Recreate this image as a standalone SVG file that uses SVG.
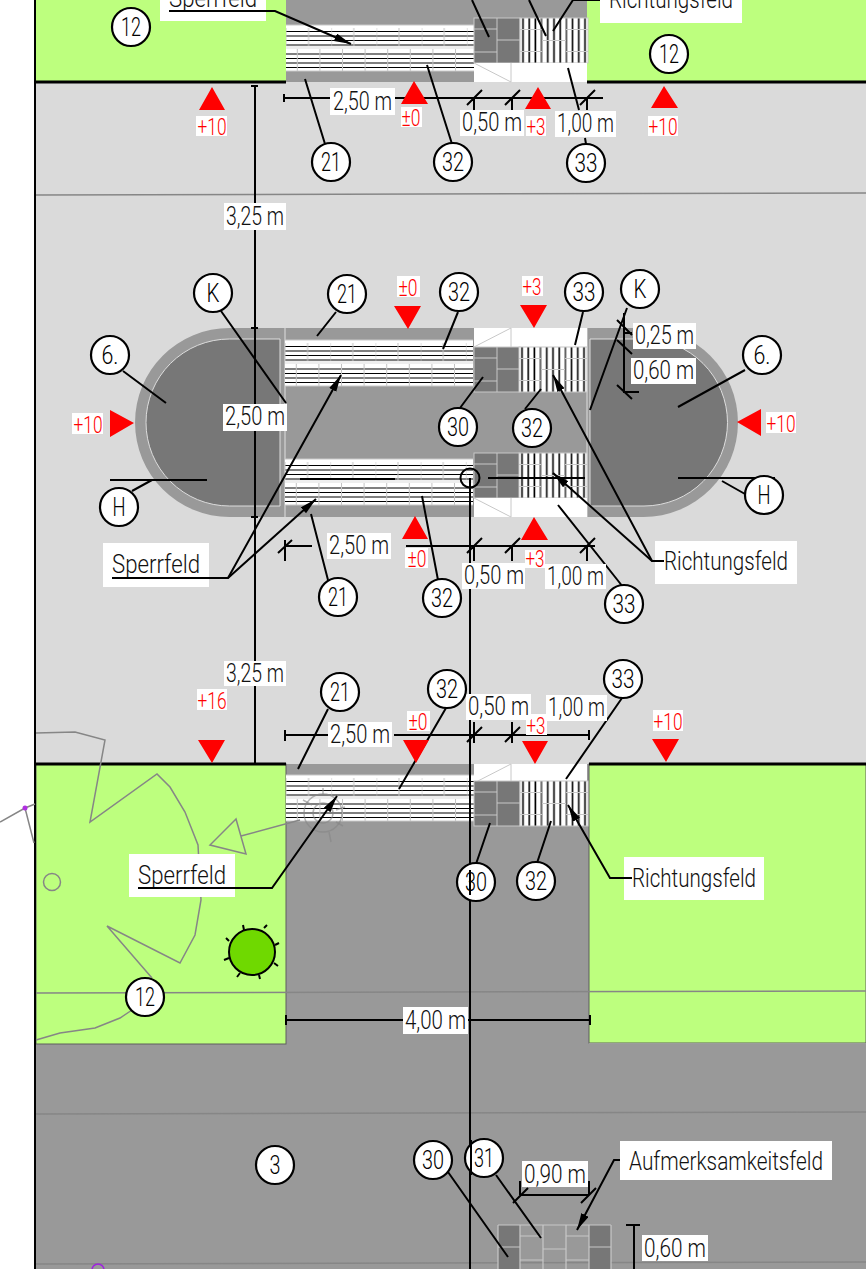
<svg xmlns="http://www.w3.org/2000/svg" xmlns:xlink="http://www.w3.org/1999/xlink" width="866" height="1269" viewBox="0 0 866 1269">
<style>
.t{font-family:Roboto,"Liberation Sans",Arial,sans-serif;font-weight:300;font-size:25px;fill:#111}
.c{font-family:Roboto,"Liberation Sans",Arial,sans-serif;font-weight:300;font-size:25px;fill:#000;text-anchor:middle}
.r{font-family:Roboto,"Liberation Sans",Arial,sans-serif;font-weight:300;font-size:24px;fill:#f00;text-anchor:middle}
.w{fill:#fff}
.n{fill:#fff;stroke:#000;stroke-width:2.2}
.l{fill:none;stroke:#000;stroke-width:2}
.a{fill:none;stroke:#000;stroke-width:2;marker-end:url(#ah)}
.g{fill:none;stroke:#868686;stroke-width:1.5}
.j{fill:none;stroke:#c8c8c8;stroke-width:1}
.tr{fill:#f00}
.road{fill:#999}
.dark{fill:#777}
.grn{fill:#bdff7e}
</style>
<defs>
<marker id="ah" markerUnits="userSpaceOnUse" markerWidth="18" markerHeight="10" refX="17" refY="4" orient="auto"><path d="M0,0 L17,4 L0,8 Z" fill="#000"/></marker>
<pattern id="hs" patternUnits="userSpaceOnUse" width="45.2" height="46">
<rect width="45.2" height="46" fill="#fff"/>
<path d="M0,6.5H45.2M0,11H45.2M0,15.5H45.2M0,20H45.2M0,29H45.2M0,33.5H45.2M0,38H45.2M0,42.5H45.2" stroke="#000" stroke-width="1.2"/>
<path d="M0,3V22M22.6,3V22M11.3,24V46M33.9,24V46" stroke="#c4c4c4" stroke-width="1"/>
<path d="M0,22.5H45.2" stroke="#eee" stroke-width="3"/>
</pattern>
<pattern id="vs" patternUnits="userSpaceOnUse" width="6.2" height="45">
<rect width="6.2" height="45" fill="#fff"/>
<rect x="2.2" width="1.6" height="45" fill="#000"/>
</pattern>
<g id="hf"><rect width="188" height="46" fill="url(#hs)"/><path d="M0,0H188M0,46H188" class="j"/></g>
<g id="vf"><rect width="68" height="45" fill="url(#vs)"/><rect width="68" height="45" class="j"/><path d="M0,11.5H22M46,11.5H68M22,0V45M46,0V45M22,22.5H46M0,33.5H22M46,33.5H68" class="j"/></g>
<g id="tile"><rect width="46" height="45" class="dark"/><rect width="46" height="45" class="j"/><path d="M23,0V45M0,11H23M0,34H23M23,22H46" class="j"/></g>
<g id="wh"><rect width="113" height="19" class="w"/><path d="M0,19L37,0M37,0V19" class="j"/></g>
<g id="wd"><rect width="113" height="19" class="w"/><path d="M0,0L37,19M37,0V19" class="j"/></g>
</defs>
<rect width="866" height="1269" fill="#fff"/>
<g id="ground">
<rect x="35" y="0" width="831" height="1269" fill="#dadada"/>
<rect x="286" y="0" width="301" height="82" class="road"/>
<rect class="grn" x="36" y="0" width="250" height="82"/>
<rect class="grn" x="587" y="0" width="279" height="82"/>
<rect class="road" x="286" y="764" width="303" height="290"/>
<rect class="road" x="35" y="1044" width="831" height="225"/>
<rect class="grn" x="36" y="764" width="250" height="280" stroke="#5f5f5f" stroke-width="1"/>
<rect class="grn" x="589" y="764" width="277" height="279" stroke="#5f5f5f" stroke-width="1"/>
<path d="M35,195L866,193" class="g"/>
<path d="M36,993L866,991" class="g"/>
<path d="M36,1114L866,1112" class="g"/>
<path d="M36,1264L866,1262" class="g"/>
<path d="M35,82H286M587,82H866M35,764H286M589,764H866" stroke="#000" stroke-width="3"/>
<path d="M35,0V1269" stroke="#000" stroke-width="2"/>
</g>
<g id="island">
<path d="M285,328H229.5A94.5,94.5 0 0 0 229.5,517H285Z" class="road"/>
<path d="M280,339H229.5A83.5,83.5 0 0 0 229.5,506H280Z" class="dark" stroke="#ddd"/>
<rect x="285" y="328" width="189" height="189" class="road"/>
<path d="M587,328H643.5A94.5,94.5 0 0 1 643.5,517H587Z" class="road"/>
<path d="M590,339H644A83.5,83.5 0 0 1 644,506H590Z" class="dark" stroke="#ddd"/>
<rect x="474" y="347" width="113" height="151" class="road"/>
<path d="M285,328V517M587,328V517" stroke="#c8c8c8" stroke-width="1.5"/>
</g>
<g id="crossings">
<use xlink:href="#hf" href="#hf" x="286" y="25"/>
<use xlink:href="#tile" href="#tile" x="474" y="18"/>
<use xlink:href="#vf" href="#vf" x="520" y="18"/>
<use xlink:href="#wd" href="#wd" x="474" y="63"/>
<use xlink:href="#hf" href="#hf" x="285" y="340"/>
<use xlink:href="#hf" href="#hf" x="285" y="459"/>
<use xlink:href="#wh" href="#wh" x="474" y="328"/>
<use xlink:href="#tile" href="#tile" x="474" y="347"/>
<use xlink:href="#vf" href="#vf" x="519" y="347"/>
<use xlink:href="#tile" href="#tile" x="474" y="453"/>
<use xlink:href="#vf" href="#vf" x="519" y="453"/>
<use xlink:href="#wd" href="#wd" x="474" y="498"/>
<use xlink:href="#hf" href="#hf" x="286" y="775"/>
<use xlink:href="#wh" href="#wh" x="474" y="764"/>
<use xlink:href="#tile" href="#tile" x="474" y="781"/>
<use xlink:href="#vf" href="#vf" x="520" y="781"/>
<g id="aufmerksamkeit">
<rect x="498" y="1225" width="22" height="44" class="dark"/>
<rect x="589" y="1225" width="22" height="44" class="dark"/>
<path d="M498,1225H611M498,1225V1269M520,1225V1269M543,1225V1269M566,1225V1269M589,1225V1269M611,1225V1269M498,1247H520M589,1247H611M520,1236H543M566,1236H589M543,1249H566M520,1260H543M566,1260H589" stroke="#c8c8c8" stroke-width="1.2" fill="none"/>
</g>
</g>
<g id="plants">
<path d="M36,733L75,732L105,740L90,822L157,774L170,787L185,812L198,845L201,900L195,935L180,963L107,926L152,978" class="g"/>
<path d="M36,1040L60,1033L95,1028L120,1018L132,1010" class="g"/>
<path d="M236,819L210,845L246,854ZM241,836L300,820" class="g"/>
<circle cx="52" cy="882" r="8.5" class="g"/>
<circle cx="323" cy="813" r="19" class="g" stroke-opacity=".6"/>
<circle cx="323" cy="813" r="10" class="g" stroke-opacity=".6"/>
<path d="M303,800L312,805M323,794V788M345,807L336,810M343,826L336,822M331,842L329,832" class="g" stroke-opacity=".6"/>
<path d="M0,822L25,808L35,804M25,808L34,843" class="g"/>
<circle cx="25" cy="808" r="2.5" fill="#b030e0"/>
<circle cx="98" cy="1270" r="6" fill="none" stroke="#a020e0" stroke-width="1.5"/>
<g id="tree">
<path d="M244,930L243,925M264,928L267,925M275,945L279,943M274,963L278,966M259,975L260,979M240,973L237,977M229,958L224,960M229,941L226,938" class="l"/>
<circle cx="252" cy="952" r="23" fill="#6fd900" stroke="#000" stroke-width="2"/>
</g>
</g>
<g id="connectors">
<path d="M169,11H275L351,44" class="a"/>
<path d="M608,0H573L553,31" class="l"/>
<path d="M529,0L546,36M472,0L489,37" class="l"/>
<path d="M305,79L325,144M427,65L452,144M568,68L579,110M585,138L586,144" class="l"/>
<path d="M284,98H331M394,98H603M284,94V102M467,105L482,90M505,105L520,90M580,105L595,90M474,98V110M512,98V110M587,98V110" class="l"/>
<path d="M255,86V764M251,86H258M251,328H258M251,517H258" class="l"/>
<path d="M470,478V1269" class="l"/>
<circle cx="470" cy="478" r="9.5" class="l" stroke-width="1.5"/>
<path d="M110,480H207M300,479H395M488,478H585M678,478H775" class="l"/>
<path d="M152,480L132,491M722,481L745,494M123,371L166,403M745,370L678,407M221,311L286,403M627,308L590,410M336,312L317,336M458,312L443,349M583,312L575,345M460,408L483,377M525,409L541,389" class="l"/>
<path d="M624,313V393M624,392H639M624,333H632M617,320L632,335M617,340L632,354M617,385L632,399" class="l"/>
<path d="M285,546H312M406,546H595M285,540V561M278,553L292,540M467,553L482,538M505,553L520,538M580,553L595,538M474,546V561M512,546V561M587,546V561" class="l"/>
<path d="M311,514L328,580M422,496L438,580M558,505L623,587" class="l"/>
<path d="M662,561H652L553,375" class="a"/>
<path d="M652,561L553,473" class="a"/>
<path d="M112,578H228L341,375" class="a"/>
<path d="M228,578L316,499" class="a"/>
<path d="M328,709L298,769M446,708L399,789M622,698L566,779M490,823L476,864M551,821L537,863" class="l"/>
<path d="M285,735H328M394,735H589M285,730V741M467,742L482,727M505,742L520,727M474,722V743M512,722V743M589,730V740" class="l"/>
<path d="M138,888H272L337,796" class="a"/>
<path d="M630,878H610L568,805" class="a"/>
<path d="M285,1020H403M468,1020H590M286,1015V1025M590,1015V1025" class="l"/>
<path d="M448,1172L508,1257M496,1175L541,1238" class="l"/>
<path d="M520,1195H589M520,1181V1195M589,1181V1195M513,1203L528,1188M581,1203L596,1188" class="l"/>
<path d="M626,1160H614L577,1230" class="a"/>
<path d="M634,1225V1269M626,1225H640" class="l"/>
</g>
<g id="level-marks">
<path class="tr" d="M212,87L225,110H199ZM414,81L428,104H401ZM538,87L551,109H525ZM664,86L678,108H651ZM408,329L394,306H421ZM534,328L520,305H547ZM134,423L110,410V437ZM737,422L761,409V436ZM415,516L428,539H402ZM534,517L548,540H521ZM212,763L198,740H225ZM416,763L403,740H429ZM535,764L522,741H548ZM666,762L652,739H679Z"/>
<g id="lv-labels">
<rect class="w" x="196" y="116" width="31" height="20"/><text class="r" x="212" y="135" textLength="29" lengthAdjust="spacingAndGlyphs">+10</text>
<rect class="w" x="401" y="107" width="21" height="20"/><text class="r" x="411" y="126" textLength="19" lengthAdjust="spacingAndGlyphs">±0</text>
<rect class="w" x="526" y="116" width="20" height="20"/><text class="r" x="536" y="135" textLength="19" lengthAdjust="spacingAndGlyphs">+3</text>
<rect class="w" x="648" y="116" width="30" height="20"/><text class="r" x="663" y="135" textLength="29" lengthAdjust="spacingAndGlyphs">+10</text>
<rect class="w" x="397" y="276" width="23" height="21"/><text class="r" x="408" y="296" textLength="19" lengthAdjust="spacingAndGlyphs">±0</text>
<rect class="w" x="522" y="276" width="21" height="20"/><text class="r" x="532" y="295" textLength="19" lengthAdjust="spacingAndGlyphs">+3</text>
<rect class="w" x="72" y="413" width="31" height="21"/><text class="r" x="88" y="433" textLength="29" lengthAdjust="spacingAndGlyphs">+10</text>
<rect class="w" x="766" y="412" width="30" height="21"/><text class="r" x="781" y="432" textLength="29" lengthAdjust="spacingAndGlyphs">+10</text>
<rect class="w" x="405" y="548" width="23" height="20"/><text class="r" x="417" y="567" textLength="19" lengthAdjust="spacingAndGlyphs">±0</text>
<rect class="w" x="525" y="550" width="20" height="18"/><text class="r" x="535" y="567" textLength="19" lengthAdjust="spacingAndGlyphs">+3</text>
<rect class="w" x="197" y="689" width="30" height="21"/><text class="r" x="212" y="709" textLength="29" lengthAdjust="spacingAndGlyphs">+16</text>
<rect class="w" x="407" y="711" width="23" height="20"/><text class="r" x="418" y="730" textLength="19" lengthAdjust="spacingAndGlyphs">±0</text>
<rect class="w" x="526" y="714" width="21" height="21"/><text class="r" x="536" y="734" textLength="19" lengthAdjust="spacingAndGlyphs">+3</text>
<rect class="w" x="653" y="710" width="30" height="21"/><text class="r" x="668" y="730" textLength="29" lengthAdjust="spacingAndGlyphs">+10</text>
</g>
</g>
<g id="labels">
<rect class="w" x="160" y="0" width="106" height="21"/><text class="t" x="169" y="7" textLength="88" lengthAdjust="spacingAndGlyphs">Sperrfeld</text>
<path d="M169,11H266" class="l"/>
<rect class="w" x="600" y="0" width="142" height="23"/><text class="t" x="609" y="8" textLength="124" lengthAdjust="spacingAndGlyphs">Richtungsfeld</text>
<rect class="w" x="330" y="88" width="65" height="27"/><text class="t" x="333" y="110" textLength="59" lengthAdjust="spacingAndGlyphs">2,50 m</text>
<rect class="w" x="460" y="110" width="64" height="26"/><text class="t" x="462" y="131" textLength="60" lengthAdjust="spacingAndGlyphs">0,50 m</text>
<rect class="w" x="555" y="111" width="61" height="26"/><text class="t" x="557" y="132" textLength="57" lengthAdjust="spacingAndGlyphs">1,00 m</text>
<rect class="w" x="224" y="203" width="62" height="27"/><text class="t" x="226" y="225" textLength="58" lengthAdjust="spacingAndGlyphs">3,25 m</text>
<rect class="w" x="223" y="404" width="64" height="27"/><text class="t" x="225" y="425" textLength="60" lengthAdjust="spacingAndGlyphs">2,50 m</text>
<rect class="w" x="633" y="323" width="63" height="26"/><text class="t" x="635" y="344" textLength="59" lengthAdjust="spacingAndGlyphs">0,25 m</text>
<rect class="w" x="631" y="358" width="65" height="26"/><text class="t" x="633" y="379" textLength="61" lengthAdjust="spacingAndGlyphs">0,60 m</text>
<rect class="w" x="327" y="533" width="64" height="26"/><text class="t" x="329" y="554" textLength="60" lengthAdjust="spacingAndGlyphs">2,50 m</text>
<rect class="w" x="462" y="563" width="63" height="26"/><text class="t" x="464" y="584" textLength="60" lengthAdjust="spacingAndGlyphs">0,50 m</text>
<rect class="w" x="545" y="564" width="61" height="25"/><text class="t" x="547" y="585" textLength="57" lengthAdjust="spacingAndGlyphs">1,00 m</text>
<rect class="w" x="655" y="541" width="142" height="43"/><text class="t" x="664" y="570" textLength="124" lengthAdjust="spacingAndGlyphs">Richtungsfeld</text>
<path d="M652,561H664" class="l"/>
<rect class="w" x="103" y="543" width="106" height="44"/><text class="t" x="112" y="573" textLength="88" lengthAdjust="spacingAndGlyphs">Sperrfeld</text>
<path d="M112,578H209" class="l"/>
<rect class="w" x="224" y="661" width="62" height="25"/><text class="t" x="226" y="682" textLength="58" lengthAdjust="spacingAndGlyphs">3,25 m</text>
<rect class="w" x="328" y="722" width="64" height="25"/><text class="t" x="330" y="743" textLength="60" lengthAdjust="spacingAndGlyphs">2,50 m</text>
<rect class="w" x="466" y="694" width="65" height="26"/><text class="t" x="468" y="715" textLength="61" lengthAdjust="spacingAndGlyphs">0,50 m</text>
<rect class="w" x="546" y="695" width="61" height="26"/><text class="t" x="548" y="716" textLength="57" lengthAdjust="spacingAndGlyphs">1,00 m</text>
<rect class="w" x="129" y="854" width="106" height="43"/><text class="t" x="138" y="884" textLength="88" lengthAdjust="spacingAndGlyphs">Sperrfeld</text>
<path d="M138,888H235" class="l"/>
<rect class="w" x="624" y="857" width="140" height="43"/><text class="t" x="632" y="887" textLength="124" lengthAdjust="spacingAndGlyphs">Richtungsfeld</text>
<path d="M610,878H632" class="l"/>
<rect class="w" x="403" y="1007" width="65" height="27"/><text class="t" x="405" y="1029" textLength="61" lengthAdjust="spacingAndGlyphs">4,00 m</text>
<rect class="w" x="522" y="1161" width="66" height="26"/><text class="t" x="524" y="1183" textLength="62" lengthAdjust="spacingAndGlyphs">0,90 m</text>
<rect class="w" x="620" y="1141" width="212" height="39"/><text class="t" x="629" y="1170" textLength="194" lengthAdjust="spacingAndGlyphs">Aufmerksamkeitsfeld</text>
<rect class="w" x="642" y="1235" width="66" height="26"/><text class="t" x="644" y="1257" textLength="62" lengthAdjust="spacingAndGlyphs">0,60 m</text>
</g>
<g id="n12a"><circle class="n" cx="131" cy="27" r="19"/><text class="c" x="131" y="36" textLength="20" lengthAdjust="spacingAndGlyphs">12</text></g>
<g id="n12b"><circle class="n" cx="669" cy="54" r="19"/><text class="c" x="669" y="63" textLength="20" lengthAdjust="spacingAndGlyphs">12</text></g>
<g id="n21a"><circle class="n" cx="331" cy="162" r="19"/><text class="c" x="331" y="171" textLength="20" lengthAdjust="spacingAndGlyphs">21</text></g>
<g id="n32a"><circle class="n" cx="453" cy="162" r="19"/><text class="c" x="453" y="171" textLength="22" lengthAdjust="spacingAndGlyphs">32</text></g>
<g id="n33a"><circle class="n" cx="586" cy="163" r="19"/><text class="c" x="586" y="172" textLength="23" lengthAdjust="spacingAndGlyphs">33</text></g>
<g id="nKa"><circle class="n" cx="213" cy="293" r="19"/><text class="c" x="213" y="302" textLength="13" lengthAdjust="spacingAndGlyphs">K</text></g>
<g id="n21b"><circle class="n" cx="347" cy="294" r="19"/><text class="c" x="347" y="303" textLength="20" lengthAdjust="spacingAndGlyphs">21</text></g>
<g id="n32b"><circle class="n" cx="459" cy="292" r="19"/><text class="c" x="459" y="301" textLength="22" lengthAdjust="spacingAndGlyphs">32</text></g>
<g id="n33b"><circle class="n" cx="584" cy="292" r="19"/><text class="c" x="584" y="301" textLength="23" lengthAdjust="spacingAndGlyphs">33</text></g>
<g id="nKb"><circle class="n" cx="640" cy="289" r="19"/><text class="c" x="640" y="298" textLength="13" lengthAdjust="spacingAndGlyphs">K</text></g>
<g id="n6a"><circle class="n" cx="110" cy="355" r="19"/><text class="c" x="110" y="364" textLength="17" lengthAdjust="spacingAndGlyphs">6.</text></g>
<g id="n6b"><circle class="n" cx="762" cy="355" r="19"/><text class="c" x="762" y="364" textLength="17" lengthAdjust="spacingAndGlyphs">6.</text></g>
<g id="n30a"><circle class="n" cx="458" cy="427" r="19"/><text class="c" x="458" y="436" textLength="22" lengthAdjust="spacingAndGlyphs">30</text></g>
<g id="n32c"><circle class="n" cx="532" cy="428" r="19"/><text class="c" x="532" y="437" textLength="22" lengthAdjust="spacingAndGlyphs">32</text></g>
<g id="nHa"><circle class="n" cx="119" cy="507" r="19"/><text class="c" x="119" y="516" textLength="13" lengthAdjust="spacingAndGlyphs">H</text></g>
<g id="nHb"><circle class="n" cx="764" cy="495" r="19"/><text class="c" x="764" y="504" textLength="13" lengthAdjust="spacingAndGlyphs">H</text></g>
<g id="n21c"><circle class="n" cx="338" cy="597" r="19"/><text class="c" x="338" y="606" textLength="20" lengthAdjust="spacingAndGlyphs">21</text></g>
<g id="n32d"><circle class="n" cx="442" cy="598" r="19"/><text class="c" x="442" y="607" textLength="22" lengthAdjust="spacingAndGlyphs">32</text></g>
<g id="n33c"><circle class="n" cx="624" cy="604" r="19"/><text class="c" x="624" y="613" textLength="23" lengthAdjust="spacingAndGlyphs">33</text></g>
<g id="n21d"><circle class="n" cx="340" cy="692" r="19"/><text class="c" x="340" y="701" textLength="20" lengthAdjust="spacingAndGlyphs">21</text></g>
<g id="n32e"><circle class="n" cx="447" cy="689" r="19"/><text class="c" x="447" y="698" textLength="22" lengthAdjust="spacingAndGlyphs">32</text></g>
<g id="n33d"><circle class="n" cx="623" cy="679" r="19"/><text class="c" x="623" y="688" textLength="23" lengthAdjust="spacingAndGlyphs">33</text></g>
<g id="n30b"><circle class="n" cx="476" cy="882" r="19"/><text class="c" x="476" y="891" textLength="22" lengthAdjust="spacingAndGlyphs">30</text></g>
<g id="n32f"><circle class="n" cx="536" cy="881" r="19"/><text class="c" x="536" y="890" textLength="22" lengthAdjust="spacingAndGlyphs">32</text></g>
<g id="n12c"><circle class="n" cx="145" cy="997" r="19"/><text class="c" x="145" y="1006" textLength="20" lengthAdjust="spacingAndGlyphs">12</text></g>
<g id="n3"><circle class="n" cx="275" cy="1165" r="19"/><text class="c" x="275" y="1174" textLength="11" lengthAdjust="spacingAndGlyphs">3</text></g>
<g id="n30c"><circle class="n" cx="433" cy="1160" r="19"/><text class="c" x="433" y="1169" textLength="22" lengthAdjust="spacingAndGlyphs">30</text></g>
<g id="n31"><circle class="n" cx="484" cy="1158" r="19"/><text class="c" x="484" y="1167" textLength="20" lengthAdjust="spacingAndGlyphs">31</text></g>
<path d="M470,870V895M471,1140V1175" class="l"/>
</svg>
